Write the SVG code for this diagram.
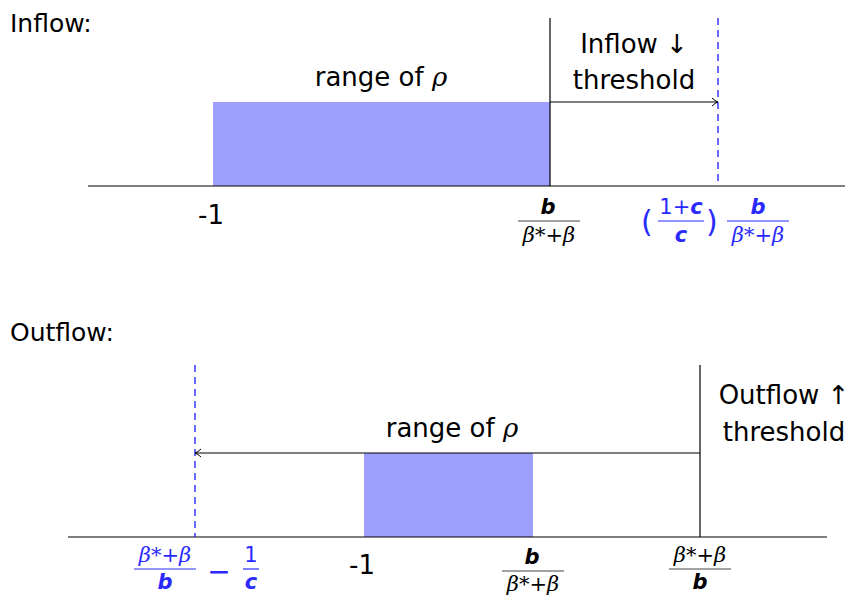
<svg xmlns="http://www.w3.org/2000/svg" width="853" height="597" viewBox="0 0 853 597">
<style>
text{font-family:"DejaVu Sans","Liberation Sans",sans-serif;fill:#000}
.lbl{font-size:26px}
.fr{font-size:21px;text-anchor:middle}
.b{fill:#2a2aff}
.m{font-family:"DejaVu Serif","Liberation Serif",serif;font-style:italic}
.v{font-style:oblique;font-weight:bold}
.ax{stroke:#000;stroke-width:1.2;fill:none}
.dash{stroke:#1a1aff;stroke-width:1.3;stroke-dasharray:7,5;fill:none}
.rng{fill:#9f9fff}
</style>
<defs>
<marker id="ah" markerWidth="10" markerHeight="10" refX="8" refY="5" orient="auto" markerUnits="userSpaceOnUse">
<path d="M2,1 Q5,4 8,5 Q5,6 2,9" fill="none" stroke="#000" stroke-width="1"/>
</marker>
</defs>
<rect width="853" height="597" fill="#fff"/>
<text x="10" y="32" font-size="25">Inflow:</text>
<text x="10" y="341" font-size="25">Outflow:</text>
<g id="inflow">
<rect class="rng" x="213" y="102" width="337" height="84"/>
<line class="ax" x1="88" y1="186" x2="845" y2="186"/>
<line class="ax" x1="550" y1="18" x2="550" y2="186"/>
<line class="dash" x1="718" y1="18" x2="718" y2="186"/>
<text class="lbl" x="381" y="86" text-anchor="middle">range of <tspan class="m">ρ</tspan></text>
<text class="lbl" x="634" y="53" text-anchor="middle">Inflow ↓</text>
<text class="lbl" x="634" y="89" text-anchor="middle">threshold</text>
<text class="lbl" x="211" y="224" text-anchor="middle">-1</text>
<g id="f1">
<text class="fr v" x="548" y="214">b</text>
<line x1="518" y1="221" x2="580" y2="221" stroke="#444" stroke-width="1.2"/>
<text class="fr m" x="549" y="242" fill="#444">β*+β</text>
</g>
<g id="f2">
<text class="b" x="641" y="232" font-size="30">(</text>
<text class="fr b" x="681" y="214">1+<tspan class="v">c</tspan></text>
<line x1="658" y1="221" x2="704" y2="221" stroke="#2a2aff" stroke-width="1.2"/>
<text class="fr v b" x="681" y="242">c</text>
<text class="b" x="706" y="232" font-size="30">)</text>
<text class="fr v b" x="758" y="214">b</text>
<line x1="727" y1="221" x2="789" y2="221" stroke="#2a2aff" stroke-width="1.2"/>
<text class="fr m b" x="758" y="242">β*+β</text>
</g>
</g>
<g id="outflow">
<rect class="rng" x="364" y="453" width="169" height="84"/>
<line class="ax" x1="68" y1="537" x2="827" y2="537"/>
<line class="ax" x1="700" y1="365" x2="700" y2="537"/>
<line class="dash" x1="195" y1="365" x2="195" y2="537"/>
<text class="lbl" x="452" y="437" text-anchor="middle">range of <tspan class="m">ρ</tspan></text>
<text class="lbl" x="784" y="404" text-anchor="middle">Outflow ↑</text>
<text class="lbl" x="784" y="441" text-anchor="middle">threshold</text>
<text class="lbl" x="362" y="574" text-anchor="middle">-1</text>
<g id="f3">
<text class="fr v" x="532" y="564">b</text>
<line x1="502" y1="571" x2="564" y2="571" stroke="#444" stroke-width="1.2"/>
<text class="fr m" x="533" y="591" fill="#444">β*+β</text>
</g>
<g id="f4">
<text class="fr m" x="700" y="562" fill="#444">β*+β</text>
<line x1="669" y1="569" x2="731" y2="569" stroke="#444" stroke-width="1.2"/>
<text class="fr v" x="700" y="589">b</text>
</g>
<g id="f5">
<text class="fr m b" x="165" y="562">β*+β</text>
<line x1="134" y1="569" x2="196" y2="569" stroke="#2a2aff" stroke-width="1.2"/>
<text class="fr v b" x="165" y="589">b</text>
<text class="b" x="219" y="581" font-size="28" text-anchor="middle">−</text>
<text class="fr b" x="251" y="562">1</text>
<line x1="243" y1="569" x2="259" y2="569" stroke="#2a2aff" stroke-width="1.2"/>
<text class="fr v b" x="251" y="589">c</text>
</g>
</g>
<g id="connectors">
<line class="ax" x1="550" y1="102" x2="718" y2="102" marker-end="url(#ah)"/>
<line class="ax" x1="700" y1="453" x2="195" y2="453" marker-end="url(#ah)"/>
</g>
</svg>
